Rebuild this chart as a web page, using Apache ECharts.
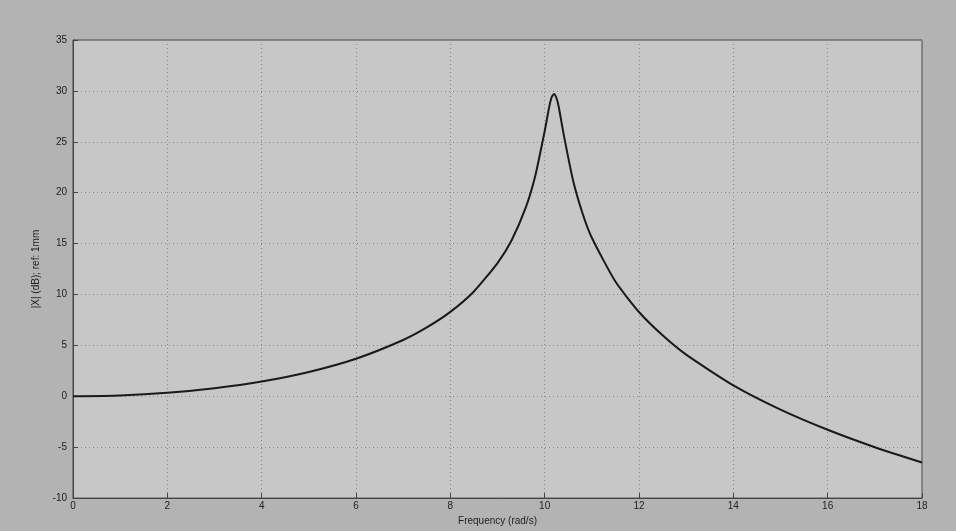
<!DOCTYPE html>
<html>
<head>
<meta charset="utf-8">
<script src="https://cdn.jsdelivr.net/npm/echarts@6/dist/echarts.min.js"></script>
<style>
  html, body { margin: 0; padding: 0; background: #b3b3b3; }
  #chart { width: 956px; height: 531px; }
</style>
</head>
<body>
<div id="chart"></div>
<script>
// values
const freq = [0, 1, 2, 3, 4, 5, 6, 7, 7.5, 8, 8.5, 9, 9.3, 9.6, 9.8, 10.0, 10.1, 10.15, 10.2, 10.25, 10.3, 10.4, 10.6, 10.8, 11, 11.5, 12, 12.5, 13, 14, 15, 16, 17, 18];
const magDb = [0, 0.08, 0.34, 0.79, 1.45, 2.39, 3.69, 5.53, 6.76, 8.29, 10.3, 13.09, 15.33, 18.55, 21.64, 26.04, 28.5, 29.4, 29.7, 29.3, 28.4, 25.8, 21.24, 18.01, 15.57, 11.27, 8.28, 5.99, 4.09, 1.07, -1.31, -3.29, -5.0, -6.5];
const xTicks = [0, 2, 4, 6, 8, 10, 12, 14, 16, 18];
const yTicks = [-10, -5, 0, 5, 10, 15, 20, 25, 30, 35];

const chart = echarts.init(document.getElementById('chart'));

const points = freq.map((f, i) => [f, magDb[i]]);
const labelFont = { fontFamily: 'Liberation Sans, Arial, sans-serif', fontSize: 10, color: '#222' };

chart.setOption({
    animation: false,
    backgroundColor: '#b3b3b3',
    grid: {
        left: 73, right: 34, top: 40, bottom: 24,
        show: true,
        backgroundColor: '#c7c7c7',
        borderColor: '#444',
        borderWidth: 1
    },
    xAxis: {
        type: 'value',
        min: xTicks[0],
        max: xTicks[xTicks.length - 1],
        interval: 2,
        name: 'Frequency (rad/s)',
        nameLocation: 'middle',
        nameGap: 12,
        nameTextStyle: labelFont,
        axisLine: { onZero: false, lineStyle: { color: '#444' } },
        axisTick: { inside: true, length: 5, lineStyle: { color: '#444' } },
        axisLabel: Object.assign({ margin: 3 }, labelFont),
        splitLine: { show: true, lineStyle: { color: '#888', type: [1, 3] } }
    },
    yAxis: {
        type: 'value',
        min: yTicks[0],
        max: yTicks[yTicks.length - 1],
        interval: 5,
        name: '|X| (dB); ref: 1mm',
        nameLocation: 'middle',
        nameGap: 32,
        nameTextStyle: labelFont,
        axisLine: { show: true, lineStyle: { color: '#444' } },
        axisTick: { show: true, inside: true, length: 5, lineStyle: { color: '#444' } },
        axisLabel: Object.assign({ margin: 6 }, labelFont),
        splitLine: { show: true, lineStyle: { color: '#888', type: [1, 3] } }
    },
    series: [
        {
            type: 'line',
            data: points,
            smooth: 0.2,
            showSymbol: false,
            lineStyle: { color: '#1a1a1a', width: 2 }
        }
    ]
});
</script>
</body>
</html>
